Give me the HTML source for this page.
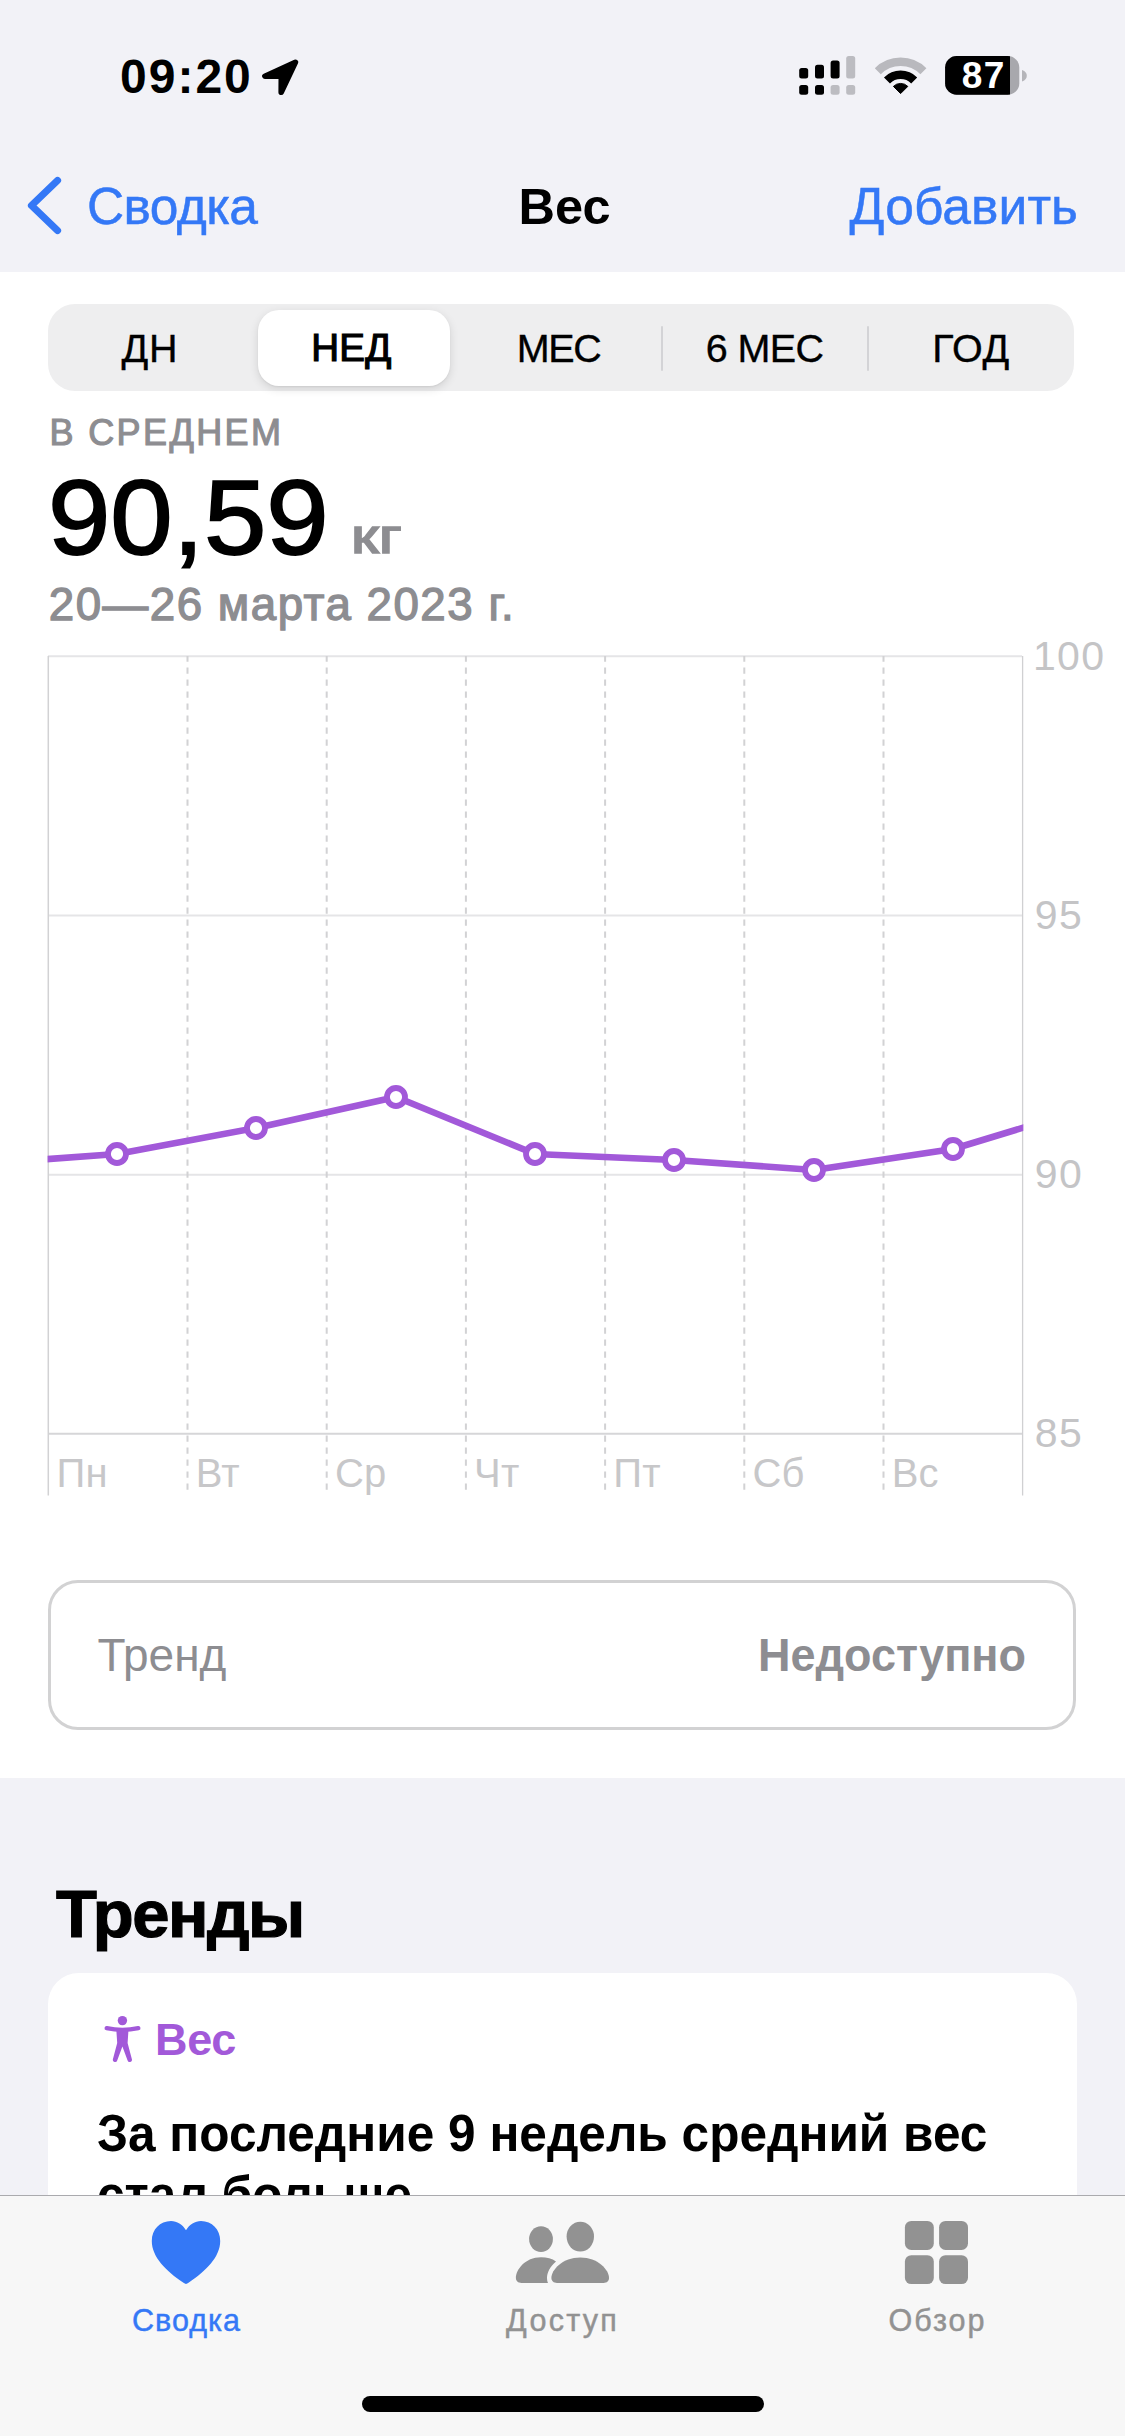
<!DOCTYPE html>
<html lang="ru">
<head>
<meta charset="utf-8">
<title>Вес</title>
<style>
*{margin:0;padding:0;box-sizing:border-box}
html,body{width:1125px;height:2436px;overflow:hidden;background:#fff}
body{font-family:"Liberation Sans",sans-serif;position:relative;color:#000}
.t{position:absolute;white-space:nowrap;line-height:1}
.abs{position:absolute}
.b{font-weight:bold}
.sb{-webkit-text-stroke:1.3px currentColor}
.blue{color:#3478f6}
.gray{color:#8d8d91}
.purple{color:#a259d9}
#top{left:0;top:0;width:1125px;height:272px;background:#f2f2f7}
#seg{left:48px;top:304px;width:1026px;height:87px;border-radius:27px;background:#eeeeef}
#segsel{left:258px;top:310px;width:192px;height:76px;border-radius:21px;background:#fff;box-shadow:0 3px 10px rgba(0,0,0,.12),0 1px 2px rgba(0,0,0,.06)}
.segl{font-size:39.5px;top:328.5px;letter-spacing:-.6px;-webkit-text-stroke:.35px currentColor}
.sep{width:2px;height:45px;top:325.5px;background:#d3d3d6;border-radius:1px}
#trend{left:48px;top:1580px;width:1028px;height:150px;border:3px solid #d2d2d3;border-radius:30px;background:#fff}
#sec2{left:0;top:1778px;width:1125px;height:658px;background:#f2f2f7}
#card{left:48px;top:1973px;width:1029px;height:300px;border-radius:31px;background:#fff}
#tab{left:0;top:2195px;width:1125px;height:241px;background:#f7f7f7;border-top:1px solid #aaaaae}
#home{left:362px;top:2396px;width:402px;height:16px;border-radius:8px;background:#000}
.tabl{font-size:30.5px;top:2305px;width:300px;text-align:center;-webkit-text-stroke:.45px currentColor}
.yl{font-size:41px;color:#c4c4c6;left:1033px;letter-spacing:1.3px}
.xl{font-size:40px;color:#c7c7c9;top:1453.2px;letter-spacing:.2px}
</style>
</head>
<body>
<!-- top status + nav -->
<div class="abs" id="top"></div>
<div class="t b" style="left:120px;top:53px;font-size:48px;letter-spacing:2px">09:20</div>
<div class="t blue" style="left:87px;top:180.5px;font-size:51.5px;letter-spacing:-.6px;-webkit-text-stroke:.5px #3478f6">Сводка</div>
<div class="t b" style="left:364.5px;width:400px;text-align:center;top:182px;font-size:50.5px">Вес</div>
<div class="t blue" style="right:47px;top:180.5px;font-size:51.5px;letter-spacing:.1px;-webkit-text-stroke:.5px #3478f6">Добавить</div>

<svg class="abs" style="left:0;top:0" width="1125" height="272" viewBox="0 0 1125 272">
<!-- location arrow -->
<path d="M295.4 62.2 L264.9 76.2 L281.3 76.1 L281.2 92.3 Z" fill="#000" stroke="#000" stroke-width="5.6" stroke-linejoin="round"/>
<!-- signal -->
<g fill="#000">
<rect x="799.2" y="68.1" width="9" height="10.3" rx="2.5"/>
<rect x="815" y="64.7" width="9" height="13.7" rx="2.5"/>
<rect x="830.6" y="60.4" width="9" height="18" rx="2.5"/>
<rect x="799.2" y="85.1" width="9" height="9.6" rx="2.5"/>
<rect x="815" y="85.1" width="9" height="9.6" rx="2.5"/>
</g>
<g fill="#bcbcc1">
<rect x="846.2" y="56.1" width="9" height="22.3" rx="2.5"/>
<rect x="830.6" y="85.1" width="9" height="9.6" rx="2.5"/>
<rect x="846.2" y="85.1" width="9" height="9.6" rx="2.5"/>
</g>
<!-- wifi -->
<g fill="none" stroke-width="8.5">
<path d="M877.8 71.2 A32.25 32.25 0 0 1 923.4 71.2" stroke="#b9b9be"/>
<path d="M887 80.4 A19.25 19.25 0 0 1 914.2 80.4" stroke="#000"/>
</g>
<path d="M900.6 93.6 L893.4 86.4 A10.2 10.2 0 0 1 907.8 86.4 Z" fill="#000" stroke="#000" stroke-width="1" stroke-linejoin="round"/>
<!-- battery -->
<clipPath id="bc"><rect x="945.1" y="56.1" width="74.2" height="38.6" rx="11.5"/></clipPath>
<g clip-path="url(#bc)"><rect x="945" y="56" width="75" height="39" fill="#a8a8ad"/><rect x="945" y="56" width="65" height="39" fill="#000"/></g>
<path d="M1022 70 C1025.5 71.2 1026.8 73.5 1026.8 75.7 C1026.8 78 1025.5 80.2 1022 81.4 Z" fill="#b5b5ba"/>
<!-- chevron -->
<path d="M57.5 180.5 L31.5 205.5 L57.5 230.5" fill="none" stroke="#3478f6" stroke-width="7.2" stroke-linecap="round" stroke-linejoin="round"/>
</svg>
<div class="t b" style="left:943px;width:80px;text-align:center;top:56.5px;font-size:37px;color:#fff;letter-spacing:1.5px;text-indent:1.5px">87</div>

<!-- segmented control -->
<div class="abs" id="seg"></div>
<div class="abs" id="segsel"></div>
<div class="abs sep" style="left:660.5px"></div>
<div class="abs sep" style="left:867px"></div>
<div class="t segl" style="left:47.5px;width:205px;text-align:center;letter-spacing:.8px">ДН</div>
<div class="t segl" style="left:249px;width:205px;text-align:center;letter-spacing:.3px;-webkit-text-stroke-width:1.2px;font-size:38.5px;top:329.4px">НЕД</div>
<div class="t segl" style="left:456px;width:205px;text-align:center;letter-spacing:-1.4px">МЕС</div>
<div class="t segl" style="left:662px;width:205px;text-align:center">6 МЕС</div>
<div class="t segl" style="left:868.5px;width:205px;text-align:center;letter-spacing:.6px">ГОД</div>

<!-- summary -->
<div class="t sb gray" style="left:49.4px;top:414.6px;font-size:36px;letter-spacing:2.4px;-webkit-text-stroke-width:1.1px">В СРЕДНЕМ</div>
<div class="t" style="left:47.5px;top:464.5px;font-size:105px;transform:scaleX(1.068);transform-origin:0 0;-webkit-text-stroke:1.8px #000">90,59</div>
<div class="t sb gray" style="left:351px;top:512.8px;font-size:47.5px;transform:scaleX(1.33);transform-origin:0 0;-webkit-text-stroke-width:1.6px">кг</div>
<div class="t sb gray" style="left:48.8px;top:582.3px;font-size:45.7px;letter-spacing:1.5px">20—26 марта 2023 г.</div>

<!-- chart -->
<svg class="abs" id="chart" style="left:0;top:640px" width="1125" height="880" viewBox="0 640 1125 880">
<clipPath id="cc"><rect x="47.6" y="650" width="975.7" height="850"/></clipPath>
<line x1="48" y1="656.2" x2="1022" y2="656.2" stroke="#e5e5e7" stroke-width="2"/>
<line x1="48" y1="915.4" x2="1022" y2="915.4" stroke="#e5e5e7" stroke-width="2"/>
<line x1="48" y1="1174.7" x2="1022" y2="1174.7" stroke="#e5e5e7" stroke-width="2"/>
<line x1="48" y1="1433.8" x2="1022" y2="1433.8" stroke="#d6d6d8" stroke-width="2"/>
<line x1="187.5" y1="656" x2="187.5" y2="1495" stroke="#d2d2d4" stroke-width="2" stroke-dasharray="6.3 5.7" stroke-dashoffset="0.6"/>
<line x1="326.7" y1="656" x2="326.7" y2="1495" stroke="#d2d2d4" stroke-width="2" stroke-dasharray="6.3 5.7" stroke-dashoffset="0.6"/>
<line x1="465.9" y1="656" x2="465.9" y2="1495" stroke="#d2d2d4" stroke-width="2" stroke-dasharray="6.3 5.7" stroke-dashoffset="0.6"/>
<line x1="605.1" y1="656" x2="605.1" y2="1495" stroke="#d2d2d4" stroke-width="2" stroke-dasharray="6.3 5.7" stroke-dashoffset="0.6"/>
<line x1="744.3" y1="656" x2="744.3" y2="1495" stroke="#d2d2d4" stroke-width="2" stroke-dasharray="6.3 5.7" stroke-dashoffset="0.6"/>
<line x1="883.5" y1="656" x2="883.5" y2="1495" stroke="#d2d2d4" stroke-width="2" stroke-dasharray="6.3 5.7" stroke-dashoffset="0.6"/>
<line x1="48.3" y1="656" x2="48.3" y2="1495.5" stroke="#d2d2d4" stroke-width="1.5"/>
<line x1="1022.6" y1="656" x2="1022.6" y2="1495.5" stroke="#d0d0d2" stroke-width="1.3"/>
<path d="M46 1159.2 L117 1154 L256 1128 L396 1097 L535 1154 L674 1160 L814 1170 L953 1149 L1026 1126.8" fill="none" stroke="#a259d9" stroke-width="6.6" stroke-linejoin="round" clip-path="url(#cc)"/>
<circle cx="117" cy="1154" r="9" fill="#fff" stroke="#a259d9" stroke-width="5.8"/>
<circle cx="256" cy="1128" r="9" fill="#fff" stroke="#a259d9" stroke-width="5.8"/>
<circle cx="396" cy="1097" r="9" fill="#fff" stroke="#a259d9" stroke-width="5.8"/>
<circle cx="535" cy="1154" r="9" fill="#fff" stroke="#a259d9" stroke-width="5.8"/>
<circle cx="674" cy="1160" r="9" fill="#fff" stroke="#a259d9" stroke-width="5.8"/>
<circle cx="814" cy="1170" r="9" fill="#fff" stroke="#a259d9" stroke-width="5.8"/>
<circle cx="953" cy="1149" r="9" fill="#fff" stroke="#a259d9" stroke-width="5.8"/>
</svg>

<div class="t yl" style="top:635.7px">100</div>
<div class="t yl" style="top:895px;left:1034.8px">95</div>
<div class="t yl" style="top:1154.2px;left:1034.8px">90</div>
<div class="t yl" style="top:1413.4px;left:1034.8px">85</div>
<div class="t xl" style="left:56.5px">Пн</div>
<div class="t xl" style="left:195.7px">Вт</div>
<div class="t xl" style="left:334.9px">Ср</div>
<div class="t xl" style="left:474.1px">Чт</div>
<div class="t xl" style="left:613.3px">Пт</div>
<div class="t xl" style="left:752.5px">Сб</div>
<div class="t xl" style="left:891.7px">Вс</div>

<!-- trend box -->
<div class="abs" id="trend"></div>
<div class="t gray" style="left:97.5px;top:1632px;font-size:46px">Тренд</div>
<div class="t b gray" style="right:98.5px;top:1632px;font-size:46px;transform:scaleX(.978);transform-origin:100% 0">Недоступно</div>

<!-- trends section -->
<div class="abs" id="sec2"></div>
<div class="t b" style="left:56px;top:1879.7px;font-size:67px;letter-spacing:-1.5px;-webkit-text-stroke:1.2px #000">Тренды</div>
<div class="abs" id="card"></div>
<div class="t b purple" style="left:155px;top:2016.5px;font-size:45px;letter-spacing:-.3px">Вес</div>
<div class="t b" style="left:96.5px;top:2102.7px;font-size:52px;line-height:61px;transform:scaleX(.953);transform-origin:0 0">За последние 9 недель средний вес<br>стал больше</div>

<svg class="abs" style="left:90px;top:2000px" width="70" height="80" viewBox="90 2000 70 80">
<g fill="#a259d9">
<circle cx="122.4" cy="2020.6" r="4.7"/>
<path d="M106.7 2028.2 Q122.4 2031.6 138.3 2028.2" fill="none" stroke="#a259d9" stroke-width="4.4" stroke-linecap="round"/>
<path d="M116.3 2029.5 L128.5 2029.5 L127.6 2043 L131.9 2059.3 a2.2 2.2 0 0 1 -4.3 1.1 L122.4 2046.5 L117.2 2060.4 a2.2 2.2 0 0 1 -4.3 -1.1 L117.2 2043 Z"/>
</g>
</svg>

<!-- tab bar -->
<div class="abs" id="tab"></div>
<div class="t tabl blue" style="left:36px;letter-spacing:1px;text-indent:1px">Сводка</div>
<div class="t tabl" style="left:411.5px;color:#929292;letter-spacing:2.3px;text-indent:2.3px">Доступ</div>
<div class="t tabl" style="left:786.5px;color:#929292;letter-spacing:2px;text-indent:2px">Обзор</div>
<svg class="abs" style="left:0;top:2200px" width="1125" height="100" viewBox="0 2200 1125 100">
<path fill="#3478f6" d="M186 2230.2 C189.5 2224.5 195 2221 201 2221 C212 2221 220.2 2229.5 220.2 2241 C220.2 2257 206 2271 188.5 2282.8 C187.5 2283.5 186.8 2283.9 186 2283.9 C185.2 2283.9 184.5 2283.5 183.5 2282.8 C166 2271 151.8 2257 151.8 2241 C151.8 2229.5 160 2221 171 2221 C177 2221 182.5 2224.5 186 2230.2 Z"/>
<g fill="#929292">
<ellipse cx="580.3" cy="2236.6" rx="13.7" ry="14.9"/>
<ellipse cx="541" cy="2239.1" rx="11.9" ry="12.9"/>
<path d="M557 2282.9 L603.5 2282.9 C607 2282.9 609 2281 609 2278 C609 2270 598 2257.6 580.3 2257.6 C562.5 2257.6 551.4 2270 551.4 2278 C551.4 2281 553.5 2282.9 557 2282.9 Z"/>
<path d="M521.5 2282.9 C518 2282.9 515.9 2281 515.9 2278 C515.9 2270 525 2257.3 541 2257.3 C547 2257.3 552 2258.8 556 2261.4 C550 2266.5 547 2272.5 547 2277.5 C547 2279.5 547.3 2281.5 548 2282.9 Z"/>
<rect x="904.9" y="2221" width="28.9" height="28.9" rx="6.4"/>
<rect x="939.1" y="2221" width="28.9" height="28.9" rx="6.4"/>
<rect x="904.9" y="2255.2" width="28.9" height="28.9" rx="6.4"/>
<rect x="939.1" y="2255.2" width="28.9" height="28.9" rx="6.4"/>
</g>
</svg>
<div class="abs" id="home"></div>
</body>
</html>
